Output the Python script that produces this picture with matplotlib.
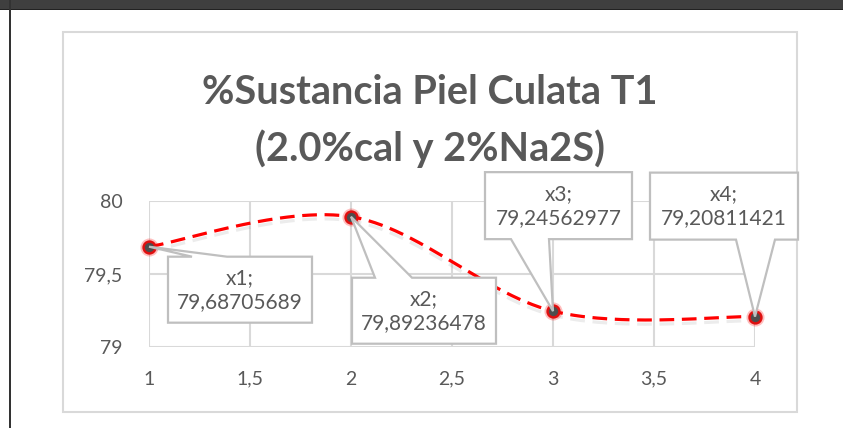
#! /usr/bin/env python3
import numpy as np
import matplotlib.pyplot as plt
from matplotlib.patches import Polygon, Rectangle
from matplotlib.transforms import IdentityTransform
import matplotlib.patheffects as pe

# data
x_vals = [1, 2, 3, 4]
y_vals = [79.68705689, 79.89236478, 79.24562977, 79.20811421]
point_names = ["x1", "x2", "x3", "x4"]
x_ticks = [1, 1.5, 2, 2.5, 3, 3.5, 4]
y_ticks = [79, 79.5, 80]
title = "%Sustancia Piel Culata T1\n(2.0%cal y 2%Na2S)"

GRAY_TXT = "#595959"
GRID = "#d9d9d9"


def smooth(xs, ys, n=60):
    # bezier smoothing similar to a spreadsheet "smoothed line"
    p = np.column_stack([xs, ys]).astype(float)
    out = []
    for i in range(len(p) - 1):
        p0 = p[max(i - 1, 0)]
        p1 = p[i]
        p2 = p[i + 1]
        p3 = p[min(i + 2, len(p) - 1)]
        c1 = p1 + (p2 - p0) / 6
        c2 = p2 - (p3 - p1) / 6
        t = np.linspace(0, 1, n)[:, None]
        seg = ((1 - t) ** 3) * p1 + 3 * ((1 - t) ** 2) * t * c1 + 3 * (1 - t) * t ** 2 * c2 + t ** 3 * p2
        out.append(seg)
    out = np.vstack(out)
    return out[:, 0], out[:, 1]


def fmt(v, _=None):
    return f"{v:g}".replace(".", ",")


def main():
    plt.rcParams["font.family"] = ["Lato", "DejaVu Sans"]
    W, H = 843, 428
    fig = plt.figure(figsize=(W / 100, H / 100), dpi=100)
    fig.patch.set_facecolor("white")

    # window frame bits
    fig.add_artist(Rectangle((0, H - 9), W, 9, transform=IdentityTransform(), color="#3f3f3f", lw=0))
    fig.add_artist(Rectangle((0, H - 10), W, 1.5, transform=IdentityTransform(), color="#222222", lw=0))
    fig.add_artist(Rectangle((9, 0), 2, H, transform=IdentityTransform(), color="#333333", lw=0))
    # chart area border
    fig.add_artist(Rectangle((63, H - 412), 734, 380, transform=IdentityTransform(),
                             fill=False, ec=GRID, lw=1.5))

    ax = fig.add_axes([149 / W, 1 - 347 / H, (755 - 149) / W, (347 - 201) / H])
    ax.set_xlim(1, 4)
    ax.set_ylim(79, 80)
    ax.set_xticks(x_ticks)
    ax.set_yticks(y_ticks)
    ax.xaxis.set_major_formatter(plt.FuncFormatter(fmt))
    ax.yaxis.set_major_formatter(plt.FuncFormatter(fmt))
    ax.grid(True, color=GRID, lw=1.5)
    ax.set_axisbelow(True)
    for s in ax.spines.values():
        s.set_visible(False)
    ax.tick_params(length=0, labelsize=14, labelcolor=GRAY_TXT)
    ax.tick_params(axis="y", pad=19)
    ax.tick_params(axis="x", pad=17)

    sx, sy = smooth(x_vals, y_vals)
    ax.plot(sx, sy, color="red", lw=2.3, dashes=(4.6, 2.4), zorder=3,
            path_effects=[pe.SimpleLineShadow(offset=(0, -3), shadow_color="gray", alpha=0.15),
                          pe.Normal()])
    ax.plot(x_vals, y_vals, "o", ms=13, color="red", alpha=0.25, mew=0, zorder=4, clip_on=False)
    ax.plot(x_vals, y_vals, "o", ms=8.5, mfc="#4d4d4d", mec="#e01010", mew=1.8, zorder=5, clip_on=False)

    fig.text(430 / W, 1 - 104 / H, title.split("\n")[0], ha="center", va="baseline",
             fontsize=28.5, fontweight="bold", color=GRAY_TXT)
    fig.text(430 / W, 1 - 161 / H, title.split("\n")[1], ha="center", va="baseline",
             fontsize=28.5, fontweight="bold", color=GRAY_TXT)

    # callout boxes: (left, right, bottom, top) offsets from the point in px,
    # wedge base (a, b) and which edge it sits on
    callouts = [
        ((19, 163, -76, -10), (43, 78), "top"),
        ((1, 145, -127, -61), (24, 61), "top"),
        ((-68, 79, 72, 139), (-42, -4), "bottom"),
        ((-105, 43, 77, 144), (-19, 20), "bottom"),
    ]
    fig.canvas.draw()
    for name, xv, yv, (box, wedge, edge) in zip(point_names, x_vals, y_vals, callouts):
        px, py = ax.transData.transform((xv, yv))
        l, r, b, t = box
        a, c = wedge
        if edge == "top":
            pts = [(l, b), (r, b), (r, t), (c, t), (0, 0), (a, t), (l, t)]
        else:
            pts = [(l, b), (a, b), (0, 0), (c, b), (r, b), (r, t), (l, t)]
        pts = [(px + dx, py + dy) for dx, dy in pts]
        fig.add_artist(Polygon(pts, closed=True, transform=IdentityTransform(),
                               fc="white", ec="#bfbfbf", lw=1.6, zorder=6))
        label = f"{name};\n" + f"{yv:.8f}".replace(".", ",")
        fig.text((px + (l + r) / 2) / W, (py + (b + t) / 2) / H, label, ha="center", va="center",
                 fontsize=15, color=GRAY_TXT, linespacing=1.25, zorder=7)

    fig.savefig("out.png", dpi=100)
    plt.close(fig)


if __name__ == "__main__":
    main()
